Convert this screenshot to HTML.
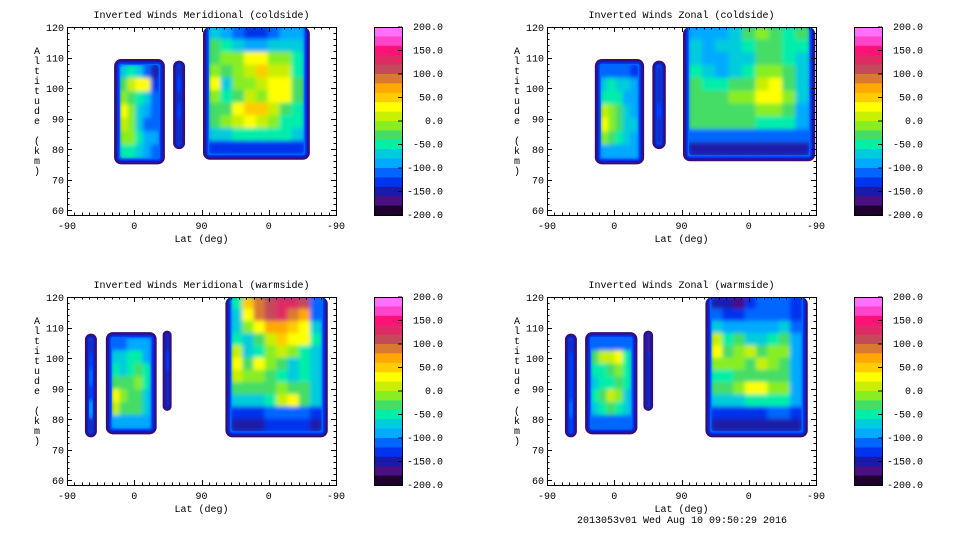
<!DOCTYPE html>
<html><head><meta charset="utf-8"><style>
html,body{margin:0;padding:0;background:#fff;}
svg{display:block;font-family:"Liberation Mono",monospace;}
</style></head><body>
<svg id="root" width="960" height="540" viewBox="0 0 960 540" xmlns="http://www.w3.org/2000/svg">
<defs>
<filter id="soft" x="-10%" y="-10%" width="120%" height="120%"><feGaussianBlur stdDeviation="2"/></filter>
</defs>
</svg>
<script>
// ---- data ----
const colorbarTicks = [200,150,100,50,0,-50,-100,-150,-200];
const xTickLabels = ["-90","0","90","0","-90"];
const yTickLabels = [60,70,80,90,100,110,120];
const bandColors = ["#ff70ff","#ff44cc","#ff1177","#e02a66","#c44a5a","#d97a30","#ffa800","#ffcc00","#ffff00","#c8f000","#88ee22","#44dd66","#00eeaa","#00ccdd","#00aaff","#0066ff","#0033ee","#1a1aaa","#4a1080","#200030"];
const titles = ["Inverted Winds Meridional (coldside)","Inverted Winds Zonal (coldside)","Inverted Winds Meridional (warmside)","Inverted Winds Zonal (warmside)"];

// blocks: [u0,u1,altBottom,altTop]  (u = position along -90..90..-90 axis, 0..360)
const tlBlocks = [[63,131,75,109.5],[142,158,80,109],[182,325,76.5,120]];
const tlValues = [
 [[-60,-40,-60,-100,-140],[-20,20,40,40,-120],[0,-20,-40,-60,-100],[30,-10,-60,-90,-100],[20,-10,-60,-100,-110],[0,-10,-40,-80,-90],[-40,-40,-60,-80,-100]],
 [[-150],[-130],[-140],[-130],[-140],[-150]],
 [[-60,-90,-110,-120,-120,-100,-90,-80],[-20,-40,-60,-80,-80,-60,-60,-70],[-20,-10,0,30,40,0,-10,-50],[-10,-20,-10,20,50,20,10,-40],[30,-60,-10,0,10,40,30,-30],[-10,-40,-20,20,0,30,40,-30],[-20,-20,30,50,50,10,-20,-40],[-20,-10,20,30,20,0,-40,-50],[-60,-60,-50,-40,-40,-40,-50,-70],[-120,-120,-120,-120,-120,-120,-120,-120]]
];
const trBlocks = [[64,130,75,109.5],[141,159,80,109],[182,359,76,120]];
const trValues = [
 [[-100,-100,-100,-110,-120],[-60,-50,-60,-70,-90],[-40,-40,-50,-80,-90],[20,0,-30,-60,-80],[40,0,-30,-60,-70],[0,-20,-40,-60,-80],[-80,-80,-80,-80,-90]],
 [[-150],[-140],[-140],[-130],[-140],[-150]],
 [[-80,-90,-80,-60,-30,-10,-20,-40,-30],[-70,-80,-70,-60,-40,-30,-30,-40,-40],[-70,-80,-90,-70,-60,-30,-20,-40,-60],[-40,-60,-80,-60,-50,-10,-10,-30,-70],[-20,-40,-40,-30,-20,20,30,-20,-70],[-30,-30,-20,-10,-10,30,40,-10,-70],[-20,-20,-20,-20,-20,-10,-10,-30,-80],[-30,-30,-30,-30,-30,-40,-50,-50,-90],[-110,-110,-110,-110,-110,-110,-110,-110,-110],[-140,-140,-140,-140,-140,-140,-140,-140,-140]]
];
const blBlocks = [[24,40,74,108],[52,120,75,108.5],[128,140,82.7,109],[212,349,74,120]];
const blValues = [
 [[-140],[-130],[-100],[-130],[-90],[-140]],
 [[-100,-100,-90,-80,-90],[-60,-70,-50,-40,-80],[-40,-60,-40,-20,-40],[-30,-20,-20,-10,-40],[30,0,-20,-20,-60],[20,-20,-20,-30,-60],[-80,-80,-80,-80,-80]],
 [[-140],[-130],[-140],[-150]],
 [[-40,60,100,120,140,130,110,-100],[-60,40,100,120,130,100,80,-100],[-60,0,40,80,80,60,30,-60],[-40,-60,-20,20,60,40,30,-50],[20,-70,-40,-10,20,-10,-40,-60],[40,-20,30,-10,-30,-60,-50,-60],[10,-10,0,-20,-40,-70,-50,-60],[-30,-30,-30,-30,-10,-30,-20,-60],[-60,-70,-70,-40,20,30,-20,-60],[-120,-120,-120,-110,-100,-100,-110,-120],[-140,-140,-140,-130,-130,-130,-130,-140]]
];
const brBlocks = [[24,40,74,108],[51,121,75,108.5],[129,142,82.7,109],[212,349,74,120]];
const brValues = [
 [[-140],[-130],[-120],[-130],[-100],[-120]],
 [[-110,-100,-100,-100,-110],[-20,10,20,30,-40],[-40,-40,-20,-10,-50],[-60,-50,-40,-30,-50],[-40,-20,20,-10,-60],[-60,-50,-30,-40,-70],[-110,-110,-110,-110,-110]],
 [[-160],[-150],[-140],[-150]],
 [[-140,-150,-160,-120,-110,-110,-110,-130],[-110,-130,-130,-110,-100,-100,-100,-120],[-60,-90,-80,-90,-90,-80,-70,-100],[20,-40,-30,-60,-60,-40,-30,-90],[40,-30,-10,10,-20,0,-10,-80],[0,-10,-10,-20,10,-10,-20,-80],[-40,-40,-30,-20,-20,-20,-20,-80],[-30,-20,-10,30,30,-10,-10,-80],[-70,-70,-60,-50,-50,-40,-40,-80],[-120,-120,-120,-120,-120,-110,-110,-120],[-140,-140,-140,-140,-140,-140,-140,-140]]
];

// ---- rendering ----
const NS="http://www.w3.org/2000/svg";
const root=document.getElementById('root');
function mk(tag,attrs,parent){const e=document.createElementNS(NS,tag);for(const k in attrs)e.setAttribute(k,attrs[k]);(parent||root).appendChild(e);return e;}
function colorOf(v){let i=Math.floor((200-v)/20);if(i<0)i=0;if(i>19)i=19;return bandColors[i];}

const panels=[
 {ox:0,oy:0,blocks:tlBlocks,vals:tlValues,name:'meridional-coldside'},
 {ox:480,oy:0,blocks:trBlocks,vals:trValues,name:'zonal-coldside'},
 {ox:0,oy:270,blocks:blBlocks,vals:blValues,name:'meridional-warmside'},
 {ox:480,oy:270,blocks:brBlocks,vals:brValues,name:'zonal-warmside'}
];
let clipId=0;
panels.forEach((p,pi)=>{
  const L=67+p.ox,R=336+p.ox,T=27+p.oy,B=215+p.oy;
  const xs=u=>L+(R-L)*u/360;
  const ys=a=>T+(120-a)*(B-T)/(120-58.4);
  const g=mk('g',{});
  
  
  const t=mk('text',{x:(L+R)/2,y:18+p.oy,'font-size':'10','text-anchor':'middle',fill:'#000'},g);
  t.textContent=titles[pi];
  
  
  p.blocks.forEach((b,bi)=>{
    const x0=xs(b[0]),x1=xs(b[1]),y0=ys(b[3]),y1=ys(b[2]);
    const bg=mk('g',{},g);
    
    
    const w=x1-x0,h=y1-y0;
    const r=Math.min(7,w/2);
    const rings=["#3a0c70","#1a1aaa","#0033ee","#0066ff"];
    rings.forEach((c,ri)=>{
      const ins=ri*1.6;
      const top=b[3]>=119.9?y0:y0+ins;
      mk('rect',{x:x0+ins,y:top,width:Math.max(1,w-2*ins),height:Math.max(1,y1-ins-top),rx:Math.max(1,r-ins),fill:c},bg);
    });
    const ins=Math.min(6,w/2-2);
    const top=b[3]>=119.9?y0:y0+ins;
    const cid='c'+(clipId++);
    const cp=mk('clipPath',{id:cid},bg);
    mk('rect',{x:x0+ins,y:top,width:w-2*ins,height:y1-ins-top,rx:3},cp);
    const cg=mk('g',{'clip-path':'url(#'+cid+')'},bg);
    const fg=mk('g',{filter:'url(#soft)'},cg);
    const vals=p.vals[bi];
    const rows=vals.length,cols=vals[0].length;
    const cw=(w-2*ins)/cols,ch=(y1-ins-top)/rows;
    vals.forEach((row,ri)=>row.forEach((v,ci)=>{
      const c=mk('rect',{x:x0+ins+ci*cw-0.5,y:top+ri*ch-0.5,width:cw+1,height:ch+1,fill:colorOf(v)},fg);
      
      
    }));
  });
  const ax=mk('g',{stroke:'#000','stroke-width':'1',fill:'none'},g);
  
  
  mk('rect',{x:L+0.5,y:T+0.5,width:R-L,height:B-T},ax);
  for(let u=0;u<=360;u+=10){
    const x=Math.round(xs(u))+0.5,len=(u%90===0)?5:2.5;
    mk('line',{x1:x,y1:B,x2:x,y2:B-len},ax);
    mk('line',{x1:x,y1:T,x2:x,y2:T+len},ax);
  }
  for(let a=60;a<=120;a+=2){
    const y=Math.round(ys(a))+0.5,len=(a%10===0)?5:2.5;
    mk('line',{x1:L,y1:y,x2:L+len,y2:y},ax);
    mk('line',{x1:R,y1:y,x2:R-len,y2:y},ax);
  }
  xTickLabels.forEach((s,i)=>{
    const tx=mk('text',{x:xs(i*90),y:B+14,'font-size':'10','text-anchor':'middle',fill:'#000'},g);
    tx.textContent=s;
    
    
  });
  yTickLabels.forEach(a=>{
    const tx=mk('text',{x:L-3,y:ys(a)+4,'font-size':'10','text-anchor':'end',fill:'#000'},g);
    tx.textContent=String(a);
    
    
  });
  const xt=mk('text',{x:(L+R)/2,y:B+27,'font-size':'10','text-anchor':'middle',fill:'#000'},g);
  xt.textContent='Lat (deg)';
  
  
  const yt=mk('text',{'font-size':'10','text-anchor':'middle',fill:'#000'},g);
  
  
  'Altitude (km)'.split('').forEach((ch,i)=>{
    const s=mk('tspan',{x:37+p.ox,y:54+p.oy+i*10},yt);
    s.textContent=ch===' '?'\u00a0':ch;
  });
  const cbx=374+p.ox,cbT=27+p.oy,cbB=215+p.oy;
  const cb=mk('g',{},g);
  
  
  const bh=(cbB-cbT)/bandColors.length;
  bandColors.forEach((c,i)=>mk('rect',{x:cbx,y:cbT+i*bh,width:28,height:bh+0.5,fill:c},cb));
  mk('rect',{x:cbx+0.5,y:cbT+0.5,width:28,height:cbB-cbT,fill:'none',stroke:'#000'},cb);
  colorbarTicks.forEach(v=>{
    const y=cbT+(200-v)/400*(cbB-cbT);
    mk('line',{x1:cbx+24,y1:y,x2:cbx+28,y2:y,stroke:'#000'},cb);
    const tx=mk('text',{x:cbx+69,y:y+3,'font-size':'10','text-anchor':'end',fill:'#000'},cb);
    tx.textContent=v.toFixed(1);
    
    
  });
});
const foot=mk('text',{x:682,y:523,'font-size':'10','text-anchor':'middle',fill:'#000'});
foot.textContent='2013053v01 Wed Aug 10 09:50:29 2016';


</script>
</body></html>
